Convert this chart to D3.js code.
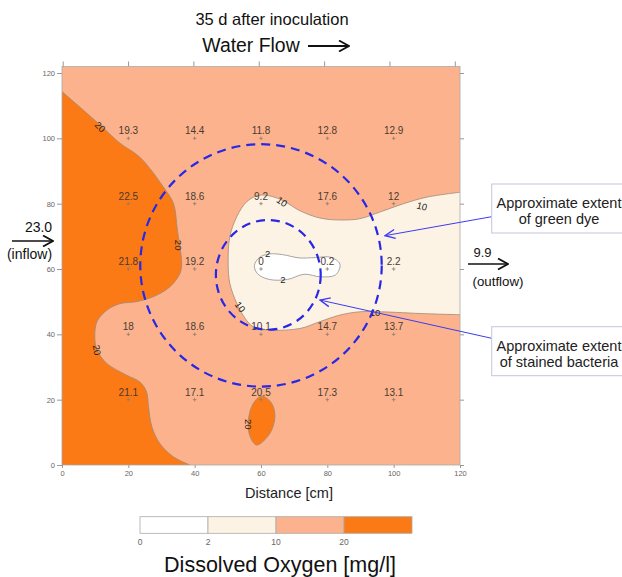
<!DOCTYPE html>
<html>
<head>
<meta charset="utf-8">
<script src="https://cdn.jsdelivr.net/npm/d3@7"></script>
<style>
  body { margin: 0; background: #fff; }
  svg { font-family: "Liberation Sans", Arial, sans-serif; }
</style>
</head>
<body>
<svg id="chart" width="622" height="577"></svg>
<script>
// sample grid (cm) and dissolved oxygen readings [mg/l], read row by row from top
const sampleX = [20, 40, 60, 80, 100];
const sampleY = [100, 80, 60, 40, 20];
const row100 = [19.3, 14.4, 11.8, 12.8, 12.9];
const row80 = [22.5, 18.6, 9.2, 17.6, 12];
const row60 = [21.8, 19.2, 0, 0.2, 2.2];
const row40 = [18, 18.6, 10.1, 14.7, 13.7];
const row20 = [21.1, 17.1, 20.5, 17.3, 13.1];
const rows = [row100, row80, row60, row40, row20];

const inflowDO = 23.0;
const outflowDO = 9.9;

// contour band levels and legend
const levels = [0, 2, 10, 20];
const bandColors = ["#ffffff", "#fdf3e4", "#fcb38d", "#fb7a15"];

const xTicks = [0, 20, 40, 60, 80, 100, 120];
const yTicks = [0, 20, 40, 60, 80, 100, 120];

const c20West = [[0,114.3],[11.5,104.1],[17.5,98.5],[23.5,94.2],[30.5,85.2],[33.6,80.1],[34.8,71.9],[35.7,65.8],[36.1,61.7],[35.6,58.7],[32.6,54.6],[27.5,51.5],[22.5,50],[17.5,49.4],[13.8,47.6],[10.6,44],[9.9,39.3],[10.6,35.2],[13.5,31.1],[19.5,27.5],[23.5,25.4],[25.5,22.4],[26.1,17.8],[27.1,11.7],[29.5,6.6],[33.6,2.5],[38.6,0]];
const c20South = [[60.2,21.1],[63.2,18.9],[64.2,14.8],[62.7,9.7],[58.7,6.1],[56.7,8.7],[56.2,13.8],[57.7,18.9]];
const c10 = [[120,83.5],[110,82],[103,80],[96,77.5],[89.8,75.4],[83.8,75],[77.8,75.6],[71.8,77.8],[65.7,81.4],[59.7,82.6],[55.7,80.6],[52.7,76],[50.6,69.9],[50.1,61.7],[50.6,55.6],[52.7,49.5],[55.2,44.9],[57.7,42.3],[62.7,41.3],[71.8,41.8],[77.8,43.9],[83.8,45.9],[89.8,46.9],[95.9,46.9],[110,46.3],[120,46]];
const c2 = [[58,61],[59.5,63.5],[62.5,64.6],[66.5,64.4],[71.5,63.4],[76.5,63.5],[81,63.6],[83.8,61.5],[82.5,58.2],[78,57.6],[73,58.4],[68,56.8],[62.5,56.8],[59,58.5]];

// contour labels: x, y, text, angle
const contourLabels = [
  [11.5, 103.5, "20", 45], [35.0, 67.3, "20", 90], [10.5, 35.2, "20", 80], [56.1, 12.5, "20", 90],
  [66.3, 80.6, "10", 35], [53.7, 48.4, "10", 55], [94.4, 46.5, "10", 0], [108.5, 79.2, "10", 15],
  [66.6, 56.6, "2", 0], [62.0, 64.8, "2", 0]
];

// extents (centre x, centre y, radius x, radius y) in cm
const dyeExtent = [60, 61.1, 36.4, 37.1];
const bacteriaExtent = [62.2, 58.2, 15.8, 16.8];

const svg = d3.select("#chart");

const x = d3.scaleLinear().domain([0, 120]).range([62, 460]);
const y = d3.scaleLinear().domain([0, 120]).range([465, 73]);
const xTop = d3.scaleLinear().domain([0, 120]).range([62.7, 454.8]);
const yMax = 122;

const defs = svg.append("defs");
defs.append("clipPath").attr("id", "plotclip")
  .append("rect")
  .attr("x", x(0)).attr("y", y(yMax))
  .attr("width", x(120) - x(0)).attr("height", y(0) - y(yMax));

// open arrowhead at the start of the pointer lines
defs.append("marker").attr("id", "blueHead")
  .attr("viewBox", "-1 -6 12 12").attr("refX", 0).attr("refY", 0)
  .attr("markerWidth", 12).attr("markerHeight", 12)
  .attr("markerUnits", "userSpaceOnUse").attr("orient", "auto")
  .append("path").attr("d", "M10,-4.5L0,0L10,4.5")
  .attr("fill", "none").attr("stroke", "#3b3bf5").attr("stroke-width", 1.4);

defs.append("marker").attr("id", "blackHead")
  .attr("viewBox", "0 -6 12 12").attr("refX", 11).attr("refY", 0)
  .attr("markerWidth", 12).attr("markerHeight", 12)
  .attr("markerUnits", "userSpaceOnUse").attr("orient", "auto")
  .append("path").attr("d", "M1,-5.5L11,0L1,5.5")
  .attr("fill", "none").attr("stroke", "#111").attr("stroke-width", 1.8);

const plot = svg.append("g").attr("clip-path", "url(#plotclip)");

// base band (10-20)
plot.append("rect")
  .attr("x", x(0)).attr("y", y(yMax))
  .attr("width", x(120) - x(0)).attr("height", y(0) - y(yMax))
  .attr("fill", bandColors[2]);

const curve = d3.line().x(d => x(d[0])).y(d => y(d[1])).curve(d3.curveCatmullRom.alpha(0.5));
const closedCurve = d3.line().x(d => x(d[0])).y(d => y(d[1])).curve(d3.curveCatmullRomClosed.alpha(0.5));
const edge = pts => pts.map(p => `L${x(p[0])},${y(p[1])}`).join("") + "Z";

// >20 band, west side, closed along the left and bottom edges
plot.append("path")
  .attr("d", curve(c20West) + edge([[0, 0]]))
  .attr("fill", bandColors[3]);
plot.append("path")
  .attr("d", closedCurve(c20South))
  .attr("fill", bandColors[3]);

// 2-10 band, closed along the right edge
plot.append("path")
  .attr("d", curve(c10) + "Z")
  .attr("fill", bandColors[1]);

// <2 band
plot.append("path")
  .attr("d", closedCurve(c2))
  .attr("fill", bandColors[0]);

// contour lines
const lineColor = "#a08a78";
plot.append("path").attr("d", curve(c20West)).attr("fill", "none").attr("stroke", lineColor).attr("stroke-width", 0.8);
plot.append("path").attr("d", closedCurve(c20South)).attr("fill", "none").attr("stroke", lineColor).attr("stroke-width", 0.8);
plot.append("path").attr("d", curve(c10)).attr("fill", "none").attr("stroke", lineColor).attr("stroke-width", 0.8);
plot.append("path").attr("d", closedCurve(c2)).attr("fill", "none").attr("stroke", "#a5a5a5").attr("stroke-width", 1);

// contour labels
plot.selectAll("text.clabel")
  .data(contourLabels)
  .join("text")
  .attr("class", "clabel")
  .attr("transform", d => `translate(${x(d[0])},${y(d[1])}) rotate(${d[3]})`)
  .attr("text-anchor", "middle")
  .attr("dy", "0.35em")
  .attr("font-size", 9.5)
  .attr("fill", "#222")
  .text(d => d[2]);

// sample points and values
const samples = [];
rows.forEach((r, i) => r.forEach((v, j) => samples.push({ x: sampleX[j], y: sampleY[i], v })));

const pts = plot.selectAll("g.sample").data(samples).join("g")
  .attr("class", "sample")
  .attr("transform", d => `translate(${x(d.x)},${y(d.y)})`);
pts.append("path").attr("d", "M-1.8,0H1.8M0,-1.8V1.8")
  .attr("stroke", "#8c7c70").attr("stroke-width", 0.8);
pts.append("text")
  .attr("y", -4)
  .attr("text-anchor", "middle")
  .attr("font-size", 10)
  .attr("fill", "#4a3a30")
  .text(d => d.v);

// dashed extents
[dyeExtent, bacteriaExtent].forEach(e => {
  svg.append("ellipse")
    .attr("cx", x(e[0])).attr("cy", y(e[1]))
    .attr("rx", x(e[0] + e[2]) - x(e[0]))
    .attr("ry", y(e[1]) - y(e[1] + e[3]))
    .attr("fill", "none")
    .attr("stroke", "#2727e6")
    .attr("stroke-width", 2.2)
    .attr("stroke-dasharray", "9,6");
});

// frame and axes
svg.append("rect")
  .attr("x", x(0)).attr("y", y(yMax))
  .attr("width", x(120) - x(0)).attr("height", y(0) - y(yMax))
  .attr("fill", "none").attr("stroke", "#a8a8a8").attr("stroke-width", 0.8);

const styleAxis = g => {
  g.select(".domain").remove();
  g.selectAll(".tick line").attr("stroke", "#999");
  g.selectAll(".tick text").attr("fill", "#666").attr("font-size", 7.5)
    .attr("font-family", "Liberation Sans, Arial, sans-serif");
};

svg.append("g").attr("transform", `translate(0,${y(0)})`)
  .call(d3.axisBottom(x).tickValues(xTicks).tickSize(3).tickPadding(3))
  .call(styleAxis);
svg.append("g").attr("transform", `translate(${x(0)},0)`)
  .call(d3.axisLeft(y).tickValues(yTicks).tickSize(5).tickPadding(2))
  .call(styleAxis);
svg.append("g").attr("transform", `translate(0,${y(yMax)})`)
  .call(d3.axisTop(xTop).tickValues(xTicks).tickSize(5).tickFormat(""))
  .call(styleAxis);
svg.append("g").attr("transform", `translate(${x(120)},0)`)
  .call(d3.axisRight(y).tickValues(yTicks).tickSize(4).tickFormat(""))
  .call(styleAxis);

svg.append("text").attr("x", 289).attr("y", 498).attr("text-anchor", "middle")
  .attr("font-size", 14.5).attr("fill", "#222").text("Distance [cm]");

// titles
svg.append("text").attr("x", 272).attr("y", 25).attr("text-anchor", "middle")
  .attr("font-size", 16.5).attr("fill", "#111").text("35 d after inoculation");
svg.append("text").attr("x", 251).attr("y", 52).attr("text-anchor", "middle")
  .attr("font-size", 19.4).attr("fill", "#111").text("Water Flow");
svg.append("line").attr("x1", 308).attr("x2", 349).attr("y1", 46).attr("y2", 46)
  .attr("stroke", "#111").attr("stroke-width", 2).attr("marker-end", "url(#blackHead)");

// inflow / outflow
svg.append("text").attr("x", 38.5).attr("y", 232).attr("text-anchor", "middle")
  .attr("font-size", 14).attr("fill", "#111").text(inflowDO.toFixed(1));
svg.append("line").attr("x1", 12).attr("x2", 53).attr("y1", 241).attr("y2", 241)
  .attr("stroke", "#111").attr("stroke-width", 1.6).attr("marker-end", "url(#blackHead)");
svg.append("text").attr("x", 29.5).attr("y", 259).attr("text-anchor", "middle")
  .attr("font-size", 14).attr("fill", "#111").text("(inflow)");

svg.append("text").attr("x", 482.5).attr("y", 256.5).attr("text-anchor", "middle")
  .attr("font-size", 13).attr("fill", "#111").text(outflowDO.toFixed(1));
svg.append("line").attr("x1", 468).attr("x2", 508).attr("y1", 264).attr("y2", 264)
  .attr("stroke", "#111").attr("stroke-width", 1.6).attr("marker-end", "url(#blackHead)");
svg.append("text").attr("x", 498).attr("y", 286).attr("text-anchor", "middle")
  .attr("font-size", 13.3).attr("fill", "#111").text("(outflow)");

// annotation boxes
const notes = [
  { top: 184, lines: ["Approximate extent", "of green dye"], tip: [97.4, 70.2], from: [491.7, 216.7] },
  { top: 326.7, lines: ["Approximate extent", "of stained bacteria"], tip: [77.8, 50.5], from: [491.7, 338.3] }
];
notes.forEach(n => {
  svg.append("line")
    .attr("x1", x(n.tip[0])).attr("y1", y(n.tip[1]))
    .attr("x2", n.from[0]).attr("y2", n.from[1])
    .attr("stroke", "#3b3bf5").attr("stroke-width", 1)
    .attr("marker-start", "url(#blueHead)");
  svg.append("rect")
    .attr("x", 491.7).attr("y", n.top).attr("width", 140).attr("height", 49)
    .attr("fill", "#fff").attr("stroke", "#c4c6dc").attr("stroke-width", 1);
  n.lines.forEach((t, i) => {
    svg.append("text").attr("x", 559).attr("y", n.top + 24 + i * 16)
      .attr("text-anchor", "middle").attr("font-size", 14.5).attr("fill", "#222").text(t);
  });
});

// colour legend
const lx = d3.scaleLinear().domain([0, levels.length]).range([140, 412]);
const legend = svg.append("g");
legend.selectAll("rect").data(bandColors).join("rect")
  .attr("x", (d, i) => lx(i)).attr("y", 516.7)
  .attr("width", lx(1) - lx(0)).attr("height", 16.6)
  .attr("fill", d => d).attr("stroke", "#aaa").attr("stroke-width", 0.8);
legend.selectAll("text").data(levels).join("text")
  .attr("x", (d, i) => lx(i)).attr("y", 545)
  .attr("text-anchor", "middle").attr("font-size", 8.5).attr("fill", "#666")
  .text(d => d);
svg.append("text").attr("x", 280).attr("y", 572).attr("text-anchor", "middle")
  .attr("font-size", 21.5).attr("fill", "#111").text("Dissolved Oxygen [mg/l]");
</script>
</body>
</html>
